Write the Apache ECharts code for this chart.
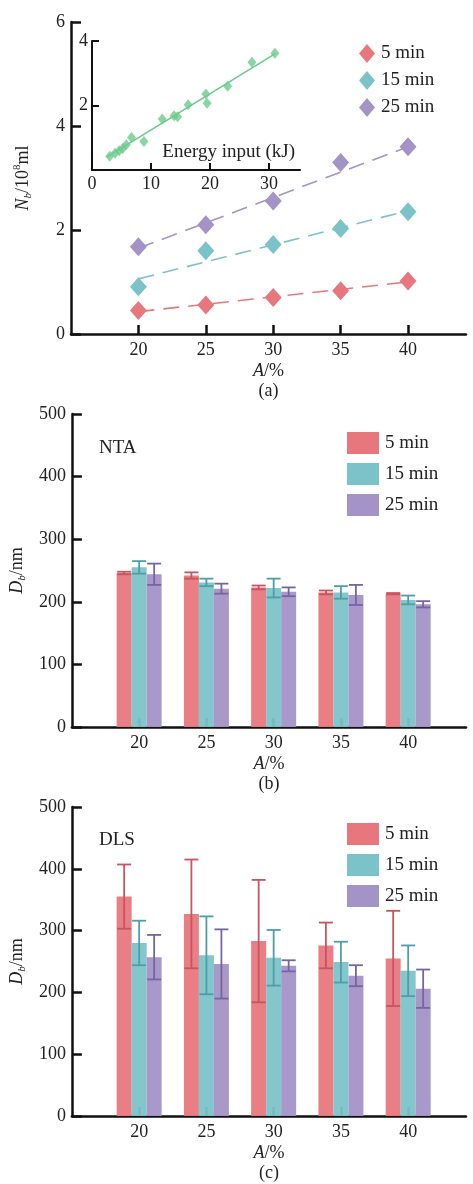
<!DOCTYPE html>
<html>
<head>
<meta charset="utf-8">
<script src="https://cdn.jsdelivr.net/npm/echarts@6/dist/echarts.min.js"></script>
<style>html,body{margin:0;padding:0;background:#fff}#c{width:473px;height:1184px}</style>
</head>
<body>
<div id="c"></div>
<script>
// ---------- data ----------
const A_PCT = [20, 25, 30, 35, 40];
const SERIES_NAMES = ['5 min', '15 min', '25 min'];

// (a) particle number N_b / 10^8 ml
const NB_5  = [0.45, 0.56, 0.70, 0.83, 1.02];
const NB_15 = [0.91, 1.60, 1.72, 2.03, 2.35];
const NB_25 = [1.68, 2.10, 2.56, 3.30, 3.60];
// dashed trend lines (values read at A = 20 and 40)
const FIT_X  = [20, 40];
const FIT_5  = [0.43, 1.00];
const FIT_15 = [1.06, 2.37];
const FIT_25 = [1.65, 3.60];

// inset: N_b vs energy input
const ENERGY_KJ = [3.0, 3.9, 4.6, 5.2, 5.8, 6.7, 8.8, 11.9, 13.9, 14.5, 16.3, 19.3, 19.5, 23.0, 27.1, 31.0];
const NB_INSET  = [0.43, 0.52, 0.60, 0.67, 0.78, 1.01, 0.88, 1.58, 1.68, 1.65, 2.02, 2.36, 2.07, 2.60, 3.34, 3.62];
const FIT_INSET_X = [2.5, 31.0];
const FIT_INSET_Y = [0.40, 3.60];

// (b) NTA diameter D_b / nm, with error half-widths
const NTA_5   = [246, 242, 223, 215, 213];
const NTA_15  = [255, 231, 222, 215, 203];
const NTA_25  = [244, 221, 216, 211, 196];
const NTA_5_ERR  = [2, 5, 3, 3, 1];
const NTA_15_ERR = [10, 6, 15, 10, 7];
const NTA_25_ERR = [17, 8, 7, 16, 5];

// (c) DLS diameter D_b / nm, with error half-widths
const DLS_5   = [355, 327, 283, 276, 255];
const DLS_15  = [280, 260, 256, 249, 235];
const DLS_25  = [257, 246, 243, 227, 206];
const DLS_5_ERR  = [52, 88, 99, 37, 77];
const DLS_15_ERR = [36, 63, 45, 33, 41];
const DLS_25_ERR = [36, 56, 9, 17, 31];

const A_TICKS = [20, 25, 30, 35, 40];
const INSET_X_TICKS = [0, 10, 20, 30];

// ---------- styles ----------
const FONT = '"Liberation Serif", "Times New Roman", serif';
const TXT = '#222';
const COLORS = ['#e8777d', '#7cc3c9', '#a393c7'];
const ERR_COLORS = ['#c65560', '#4d9fa7', '#76659f'];
const GREEN = '#6cca8c';
const BAR_W = 15;

const chart = echarts.init(document.getElementById('c'), null, {renderer: 'canvas'});

function mainX(gi, letter) {
  return {
    type: 'value', gridIndex: gi, min: 15, max: 44.3,
    axisLine: {lineStyle: {color: '#111', width: 2.5}},
    axisTick: {inside: true, length: 9, customValues: A_TICKS, lineStyle: {color: '#111', width: 2.5}},
    axisLabel: {customValues: A_TICKS, margin: 7, fontFamily: FONT, fontSize: 18, color: TXT},
    splitLine: {show: false},
    name: '{i|A}{n|/%}\n{n|(' + letter + ')}',
    nameLocation: 'middle', nameGap: 27,
    nameTextStyle: {
      fontFamily: FONT, fontSize: 18, color: TXT, lineHeight: 20,
      rich: {
        i: {fontFamily: FONT, fontSize: 18, fontStyle: 'italic', color: TXT, lineHeight: 20},
        n: {fontFamily: FONT, fontSize: 18, color: TXT, lineHeight: 20}
      }
    }
  };
}
const yRich = {
  i: {fontFamily: FONT, fontSize: 18, fontStyle: 'italic', color: TXT, lineHeight: 22},
  sb: {fontFamily: FONT, fontSize: 11, fontStyle: 'italic', color: TXT, lineHeight: 22, verticalAlign: 'bottom'},
  sp: {fontFamily: FONT, fontSize: 11, color: TXT, lineHeight: 22, verticalAlign: 'top'},
  n: {fontFamily: FONT, fontSize: 18, color: TXT, lineHeight: 22}
};
function mainY(gi, max, interval, name) {
  return {
    type: 'value', gridIndex: gi, min: 0, max: max, interval: interval,
    axisLine: {show: true, lineStyle: {color: '#111', width: 2.5}},
    axisTick: {show: true, inside: true, length: 10, lineStyle: {color: '#111', width: 2.5}},
    axisLabel: {margin: 6, fontFamily: FONT, fontSize: 18, color: TXT},
    splitLine: {show: false},
    name: name, nameLocation: 'middle', nameRotate: 90, nameGap: 37,
    nameTextStyle: {rich: yRich}
  };
}

function errSeries(xi, yi, vals, errs, k) {
  return {
    type: 'custom', xAxisIndex: xi, yAxisIndex: yi, z: 5,
    data: A_PCT.map((x, i) => [x, vals[i] - errs[i], vals[i] + errs[i]]),
    encode: {x: 0, y: [1, 2]},
    renderItem: function (params, api) {
      const lo = api.coord([api.value(0), api.value(1)]);
      const hi = api.coord([api.value(0), api.value(2)]);
      const x = lo[0] + (k - 1) * BAR_W;
      const st = {stroke: ERR_COLORS[k], lineWidth: 1.8};
      return {type: 'group', children: [
        {type: 'line', shape: {x1: x, y1: lo[1], x2: x, y2: hi[1]}, style: st},
        {type: 'line', shape: {x1: x - 7, y1: hi[1], x2: x + 7, y2: hi[1]}, style: st},
        {type: 'line', shape: {x1: x - 7, y1: lo[1], x2: x + 7, y2: lo[1]}, style: st}
      ]};
    }
  };
}
function barSeries(xi, yi, vals, k) {
  return {
    type: 'bar', name: SERIES_NAMES[k], xAxisIndex: xi, yAxisIndex: yi,
    barWidth: BAR_W, barGap: '0%',
    itemStyle: {color: COLORS[k], opacity: 0.95},
    data: A_PCT.map((x, i) => [x, vals[i]])
  };
}
function scatterA(vals, k) {
  return {
    type: 'scatter', name: SERIES_NAMES[k], xAxisIndex: 0, yAxisIndex: 0, z: 4,
    symbol: 'diamond', symbolSize: [17, 19],
    itemStyle: {color: COLORS[k], opacity: 1},
    data: A_PCT.map((x, i) => [x, vals[i]])
  };
}
function fitA(vals, k) {
  return {
    type: 'line', xAxisIndex: 0, yAxisIndex: 0, z: 3, symbol: 'none', silent: true,
    lineStyle: {color: COLORS[k], width: 1.6, type: [16, 9]},
    data: FIT_X.map((x, i) => [x, vals[i]])
  };
}
function legendAt(top, icon, w, h, gap, left) {
  return {
    data: SERIES_NAMES, orient: 'vertical', left: left, top: top, icon: icon, padding: 0,
    itemWidth: w, itemHeight: h, itemGap: gap, selectedMode: false,
    textStyle: {fontFamily: FONT, fontSize: 19, color: TXT, padding: [0, 0, 0, 1]}
  };
}

const option = {
  backgroundColor: '#fff',
  animation: false,
  title: [
    {text: 'NTA', left: 99, top: 439, padding: 0, textStyle: {fontFamily: FONT, fontSize: 19, fontWeight: 'normal', color: TXT}},
    {text: 'DLS', left: 99, top: 831, padding: 0, textStyle: {fontFamily: FONT, fontSize: 19, fontWeight: 'normal', color: TXT}}
  ],
  legend: [
    legendAt(44, 'diamond', 16, 19, 8, 359),
    legendAt(432, 'rect', 32, 22, 9, 347),
    legendAt(823, 'rect', 32, 22, 9, 347)
  ],
  grid: [
    {left: 71, top: 22, width: 395, height: 312},
    {left: 92, top: 41, width: 208, height: 129},
    {left: 71, top: 414, width: 395, height: 313},
    {left: 71, top: 807, width: 395, height: 312}
  ],
  xAxis: [
    mainX(0, 'a'),
    {
      type: 'value', gridIndex: 1, min: 0, max: 35.25,
      axisLine: {lineStyle: {color: '#111', width: 2}},
      axisTick: {inside: true, length: 7, customValues: [10, 20, 30], lineStyle: {color: '#111', width: 2}},
      axisLabel: {customValues: INSET_X_TICKS, margin: 5, fontFamily: FONT, fontSize: 18, color: TXT},
      splitLine: {show: false},
      name: 'Energy input (kJ)', nameLocation: 'end', nameGap: -5,
      nameTextStyle: {fontFamily: FONT, fontSize: 19, color: TXT, align: 'right', verticalAlign: 'bottom', padding: [0, 0, 8, 0]}
    },
    mainX(2, 'b'),
    mainX(3, 'c')
  ],
  yAxis: [
    mainY(0, 6, 2, '{i|N}{sb|b}{n|/10}{sp|8}{n|ml}'),
    {
      type: 'value', gridIndex: 1, min: 0, max: 4, interval: 2,
      axisLine: {show: true, lineStyle: {color: '#111', width: 2}},
      axisTick: {show: true, inside: true, length: 7, customValues: [2, 4], lineStyle: {color: '#111', width: 2}},
      axisLabel: {customValues: [2, 4], margin: 4, fontFamily: FONT, fontSize: 18, color: TXT},
      splitLine: {show: false}
    },
    mainY(2, 500, 100, '{i|D}{sb|b}{n|/nm}'),
    mainY(3, 500, 100, '{i|D}{sb|b}{n|/nm}')
  ],
  series: [
    scatterA(NB_5, 0), scatterA(NB_15, 1), scatterA(NB_25, 2),
    fitA(FIT_5, 0), fitA(FIT_15, 1), fitA(FIT_25, 2),
    {
      type: 'line', xAxisIndex: 1, yAxisIndex: 1, symbol: 'none', silent: true, z: 3,
      lineStyle: {color: GREEN, width: 1.6},
      data: FIT_INSET_X.map((x, i) => [x, FIT_INSET_Y[i]])
    },
    {
      type: 'scatter', xAxisIndex: 1, yAxisIndex: 1, z: 4, symbol: 'diamond', symbolSize: [9, 11],
      itemStyle: {color: GREEN},
      data: ENERGY_KJ.map((x, i) => [x, NB_INSET[i]])
    },
    barSeries(2, 2, NTA_5, 0), barSeries(2, 2, NTA_15, 1), barSeries(2, 2, NTA_25, 2),
    errSeries(2, 2, NTA_5, NTA_5_ERR, 0), errSeries(2, 2, NTA_15, NTA_15_ERR, 1), errSeries(2, 2, NTA_25, NTA_25_ERR, 2),
    barSeries(3, 3, DLS_5, 0), barSeries(3, 3, DLS_15, 1), barSeries(3, 3, DLS_25, 2),
    errSeries(3, 3, DLS_5, DLS_5_ERR, 0), errSeries(3, 3, DLS_15, DLS_15_ERR, 1), errSeries(3, 3, DLS_25, DLS_25_ERR, 2)
  ]
};
chart.setOption(option);
</script>
</body>
</html>
